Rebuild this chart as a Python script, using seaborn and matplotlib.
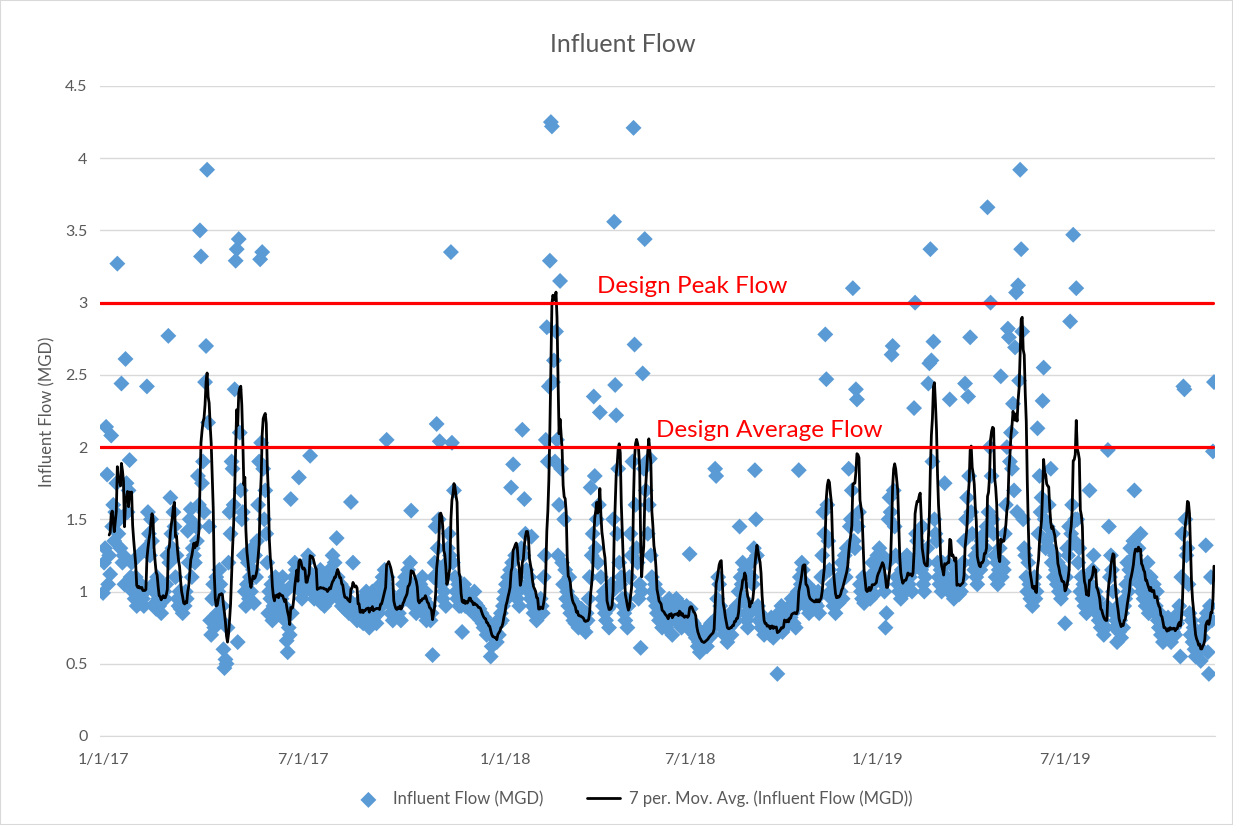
import numpy as np
import pandas as pd
import matplotlib
matplotlib.use('Agg')
import matplotlib.pyplot as plt
import seaborn as sns
from matplotlib.ticker import MultipleLocator, FuncFormatter
from matplotlib.patches import Rectangle

# daily influent flow (MGD), one row ~ 10 readings
flow_2017 = [
    0.99, 1.20, 1.30, 2.14, 1.81, 1.05, 1.25, 1.12, 2.08, 1.45,
    1.60, 1.35, 1.55, 1.75, 3.27, 1.40, 1.50, 1.30, 2.44, 1.20,
    1.25, 1.05, 2.61, 1.75, 1.55, 1.70, 1.91, 1.10, 1.20, 1.00,
    1.05, 0.95, 1.10, 0.90, 1.00, 1.25, 0.92, 1.05, 0.98, 0.95,
    0.90, 1.00, 1.30, 2.42, 1.55, 1.40, 1.25, 1.50, 1.35, 1.05,
    1.00, 0.92, 0.88, 1.10, 0.95, 0.90, 1.00, 0.85, 1.05, 0.95,
    1.00, 0.95, 1.05, 1.25, 2.77, 1.20, 1.65, 1.40, 1.30, 1.55,
    1.45, 1.10, 1.25, 0.95, 0.90, 1.00, 0.88, 0.92, 0.85, 0.95,
    0.90, 1.00, 0.95, 1.42, 1.20, 1.50, 1.57, 1.10, 1.30, 1.25,
    1.20, 1.45, 1.35, 1.80, 1.60, 3.50, 3.32, 1.75, 1.90, 1.55,
    2.45, 2.70, 3.92, 2.17, 1.45, 0.80, 0.70, 0.95, 1.05, 0.75,
    0.95, 1.10, 0.85, 1.00, 1.15, 1.05, 0.80, 0.90, 0.60, 0.47,
    0.53, 0.50, 0.75, 1.20, 1.55, 1.40, 1.90, 1.85, 1.60, 2.40,
    3.29, 3.37, 0.65, 3.44, 2.10, 1.70, 1.50, 1.55, 1.25, 1.00,
    0.90, 1.05, 1.20, 0.95, 1.10, 1.00, 1.30, 1.15, 0.92, 1.25,
    1.10, 1.35, 1.60, 1.90, 3.30, 2.03, 3.35, 1.85, 1.50, 1.70,
    1.40, 1.20, 0.85, 1.00, 0.95, 1.05, 0.80, 0.90, 1.00, 1.10,
    0.95, 1.05, 0.90, 1.00, 0.85, 0.95, 1.10, 0.81, 0.90, 1.00,
    0.66, 0.58, 0.75, 0.70, 1.64, 0.85, 1.05, 1.10, 1.20, 1.15,
    1.05, 1.10, 1.79, 1.15, 1.00, 0.95, 1.05, 1.10, 1.00, 1.20,
    1.15, 1.25, 1.10, 1.94, 1.05, 1.00, 1.10, 0.95, 1.05, 1.00,
    0.95, 1.10, 1.00, 1.15, 0.92, 1.05, 1.00, 0.90, 1.10, 0.98,
    1.05, 1.00, 1.15, 0.95, 1.10, 1.25, 1.05, 1.20, 1.00, 1.37,
    1.10, 0.95, 1.00, 1.05, 0.90, 0.95, 1.00, 0.88, 0.92, 1.00,
    0.95, 0.85, 0.90, 1.62, 0.92, 1.20, 0.88, 0.85, 0.90, 0.80,
    0.85, 0.92, 0.80, 0.88, 0.95, 0.78, 0.90, 0.85, 1.00, 0.82,
    0.90, 0.75, 0.95, 0.85, 1.00, 0.80, 0.88, 0.92, 0.78, 0.95,
    0.85, 0.95, 1.05, 0.90, 1.10, 1.00, 1.15, 1.05, 2.05, 1.10,
    1.00, 0.95, 0.85, 0.90, 0.80, 0.95, 0.88, 0.85, 0.90, 0.95,
    0.85, 0.92, 0.80, 0.95, 1.05, 1.00, 1.10, 0.95, 1.05, 1.15,
    1.00, 1.20, 1.56, 1.05, 0.95, 0.90, 1.00, 0.85, 0.92, 0.88,
    0.95, 1.05, 0.90, 1.10, 0.85, 0.95, 1.00, 0.80, 0.88, 0.85,
    0.90, 0.80, 0.85, 0.56, 1.10, 1.20, 1.45, 2.16, 1.30, 1.50,
    2.04, 1.15, 1.05, 0.95, 1.00, 1.10, 0.90, 1.20, 1.30, 1.40,
    1.25, 3.35, 2.03, 1.20, 1.70, 1.10, 1.00, 0.95, 1.05, 0.90,
    1.00, 0.90, 0.72, 0.95, 1.05, 0.90, 1.00, 0.92, 0.98, 0.88,
    0.95, 0.90, 0.88, 0.85, 1.00, 0.92, 0.86, 0.90, 0.82, 0.88,
    0.80, 0.85, 0.78, 0.75, 0.82, 0.80, 0.70, 0.78, 0.72, 0.75,
    0.55, 0.62, 0.70, 0.68, 0.75, 0.72, 0.65, 0.80, 0.70, 0.78,
]

flow_2018 = [
    0.85, 0.80, 0.90, 0.95, 1.00, 1.05, 0.95, 1.10, 1.00, 1.15,
    1.72, 1.20, 1.88, 1.05, 1.25, 1.10, 0.95, 1.00, 0.90, 1.05,
    1.30, 2.12, 1.25, 1.64, 1.40, 1.15, 1.05, 1.00, 1.10, 0.95,
    1.38, 0.90, 0.85, 0.95, 0.88, 0.80, 0.92, 0.85, 0.90, 0.95,
    0.90, 0.85, 1.10, 1.25, 2.05, 2.83, 1.90, 2.42, 3.29, 4.25,
    4.22, 2.45, 2.60, 1.90, 2.80, 2.05, 1.25, 1.60, 3.15, 1.85,
    1.20, 1.05, 1.50, 1.15, 0.95, 1.00, 0.90, 1.10, 0.85, 0.95,
    0.85, 0.80, 0.92, 0.78, 0.85, 0.90, 0.75, 0.82, 0.80, 0.88,
    0.75, 0.80, 0.78, 0.72, 0.85, 0.80, 0.95, 1.10, 1.72, 1.25,
    1.40, 2.35, 1.80, 1.30, 1.50, 1.20, 1.60, 2.24, 1.10, 0.95,
    0.90, 1.00, 0.85, 0.80, 0.95, 0.88, 0.75, 0.90, 1.05, 1.00,
    1.50, 3.56, 2.43, 2.22, 1.40, 1.85, 1.20, 1.05, 1.10, 0.95,
    0.90, 0.85, 0.80, 0.95, 0.75, 0.90, 1.10, 1.40, 1.25, 1.90,
    4.21, 2.71, 1.60, 1.30, 1.20, 0.95, 1.05, 0.61, 1.00, 2.51,
    1.85, 3.44, 1.70, 1.90, 1.40, 1.60, 1.92, 1.25, 1.10, 1.00,
    0.95, 1.05, 0.90, 0.85, 1.00, 0.80, 0.92, 0.88, 0.75, 0.85,
    0.80, 0.90, 0.75, 0.85, 0.78, 0.95, 0.82, 0.88, 0.70, 0.85,
    0.90, 0.80, 0.95, 0.85, 0.78, 0.92, 0.80, 0.75, 0.88, 0.82,
    0.80, 0.85, 0.90, 0.75, 0.82, 1.26, 0.88, 0.80, 0.72, 0.78,
    0.70, 0.68, 0.75, 0.62, 0.65, 0.58, 0.70, 0.60, 0.66, 0.72,
    0.65, 0.70, 0.62, 0.75, 0.68, 0.72, 0.78, 0.70, 0.75, 0.80,
    1.85, 1.80, 0.95, 1.10, 1.05, 0.90, 0.85, 0.75, 0.80, 0.70,
    0.72, 0.78, 0.65, 0.80, 0.75, 0.85, 0.70, 0.82, 0.78, 0.85,
    0.80, 0.90, 0.85, 1.00, 1.45, 1.10, 1.05, 1.20, 0.95, 1.15,
    0.85, 0.80, 0.75, 0.90, 0.85, 1.20, 1.10, 1.05, 1.30, 1.84,
    1.50, 1.25, 0.90, 0.80, 0.85, 0.75, 0.78, 0.82, 0.70, 0.75,
    0.80, 0.72, 0.78, 0.75, 0.70, 0.82, 0.76, 0.68, 0.80, 0.74,
    0.78, 0.43, 0.85, 0.80, 0.75, 0.90, 0.72, 0.82, 0.78, 0.80,
    0.76, 0.85, 0.80, 0.90, 0.82, 0.95, 0.85, 0.78, 0.88, 0.75,
    0.90, 1.00, 1.84, 1.10, 1.05, 1.20, 1.15, 0.95, 1.00, 0.90,
    1.05, 0.92, 0.85, 1.00, 0.90, 0.95, 0.88, 1.00, 0.92, 0.95,
    0.90, 1.00, 0.85, 0.98, 1.10, 1.25, 1.55, 1.40, 2.78, 2.47,
    1.60, 1.35, 1.15, 1.00, 0.95, 1.05, 0.90, 1.00, 0.85, 0.95,
    1.05, 0.92, 1.10, 1.00, 1.20, 0.95, 1.15, 1.25, 1.10, 1.30,
    1.30, 1.85, 1.45, 1.50, 1.70, 3.10, 1.35, 1.30, 2.40, 2.33,
    1.45, 1.55, 1.05, 1.00, 0.95, 1.10, 0.92, 1.00, 1.05, 0.98,
    1.05, 1.10, 0.95, 1.00, 1.20, 1.05, 0.98, 1.10, 1.15, 1.25,
]

flow_2019 = [
    1.15, 1.30, 1.20, 1.10, 1.25, 1.05, 1.00, 0.75, 0.85, 1.20,
    1.50, 1.65, 1.55, 2.64, 2.70, 1.70, 1.45, 1.25, 1.10, 1.05,
    1.00, 1.10, 0.95, 1.15, 1.05, 1.20, 1.10, 1.00, 1.25, 1.15,
    1.05, 1.10, 1.20, 1.00, 1.15, 2.27, 3.00, 1.40, 1.35, 1.20,
    1.25, 1.30, 1.15, 1.45, 1.05, 1.00, 1.10, 1.20, 1.30, 2.44,
    2.58, 3.37, 2.60, 1.90, 2.73, 1.50, 1.40, 1.35, 1.20, 1.10,
    1.05, 1.15, 1.00, 1.20, 1.10, 1.75, 1.05, 1.10, 1.20, 1.00,
    2.33, 1.05, 1.00, 1.10, 0.95, 1.05, 1.15, 1.00, 1.10, 0.98,
    1.05, 1.00, 1.10, 1.20, 1.35, 2.44, 1.50, 1.65, 2.35, 1.80,
    2.76, 1.55, 1.40, 1.20, 1.15, 1.25, 1.10, 1.05, 1.30, 1.20,
    1.15, 1.35, 1.25, 1.20, 1.40, 1.30, 1.45, 3.66, 1.55, 2.00,
    3.00, 1.80, 1.50, 1.40, 1.25, 1.10, 1.20, 1.05, 1.15, 1.30,
    2.49, 1.10, 1.20, 1.15, 1.40, 1.60, 2.00, 2.82, 2.76, 1.90,
    2.10, 1.85, 2.30, 1.70, 2.69, 3.07, 1.55, 3.12, 2.46, 3.92,
    3.37, 2.80, 1.50, 1.30, 1.25, 1.10, 1.00, 1.20, 1.05, 0.95,
    1.00, 0.90, 1.05, 1.10, 0.95, 1.00, 2.13, 1.40, 1.80, 1.55,
    1.65, 2.32, 2.55, 1.50, 1.30, 1.35, 1.45, 1.60, 1.30, 1.85,
    1.20, 1.40, 1.10, 1.25, 1.15, 1.05, 1.20, 1.00, 1.10, 0.95,
    1.05, 1.15, 1.00, 0.78, 1.10, 1.30, 1.25, 1.45, 2.87, 1.40,
    1.60, 3.47, 1.35, 1.50, 3.10, 1.50, 1.20, 1.30, 1.00, 1.10,
    0.95, 1.05, 0.90, 1.00, 0.85, 1.10, 0.95, 1.70, 1.05, 1.00,
    1.15, 1.25, 0.90, 1.00, 0.85, 0.95, 0.80, 0.90, 0.75, 0.85,
    0.80, 0.70, 0.85, 0.75, 0.90, 1.98, 1.45, 1.10, 1.25, 1.15,
    1.00, 0.85, 0.75, 0.80, 0.65, 0.90, 0.72, 0.80, 0.68, 0.85,
    0.75, 0.90, 0.95, 1.05, 1.20, 1.00, 1.15, 1.30, 1.10, 1.20,
    1.35, 1.70, 1.25, 1.15, 1.20, 1.30, 1.05, 1.40, 1.00, 1.15,
    0.95, 1.10, 0.90, 1.05, 1.20, 0.85, 1.00, 1.10, 0.90, 0.95,
    1.05, 0.85, 0.90, 1.00, 0.80, 0.75, 0.85, 0.70, 0.78, 0.65,
    0.72, 0.80, 0.68, 0.75, 0.82, 0.70, 0.78, 0.65, 0.80, 0.72,
    0.75, 0.70, 0.80, 0.78, 0.85, 0.90, 0.55, 1.10, 1.40, 2.42,
    2.40, 1.50, 1.25, 1.30, 1.05, 0.85, 0.70, 0.80, 0.65, 0.75,
    0.60, 0.55, 0.65, 0.58, 0.62, 0.70, 0.52, 0.60, 0.68, 0.75,
    0.80, 1.32, 0.85, 0.58, 0.43, 0.90, 1.10, 0.80, 1.97, 2.45,
]

tick_labels = ['1/1/17', '7/1/17', '1/1/18', '7/1/18', '1/1/19', '7/1/19']
design_peak = 3.0
design_avg = 2.0

# tabla para seaborn
flow = flow_2017 + flow_2018 + flow_2019
df = pd.DataFrame({'n': np.arange(len(flow)), 'flow': flow})
df['ma'] = df['flow'].rolling(7).mean()

# category positions where the date labels sit
tick_pos = [0, 196, 394, 575, 759, 943]

sns.set_style('white')
plt.rcParams['font.family'] = ['Lato', 'DejaVu Sans']
gris = '#595959'

fig = plt.figure(figsize=(12.33, 8.25), dpi=100)
ax = fig.add_axes([0.0811, 0.1079, 0.9043, 0.7879])

sns.scatterplot(data=df, x='n', y='flow', marker='D', s=66, color='#5B9BD5',
                edgecolor='none', linewidth=0, ax=ax, zorder=2,
                label='Influent Flow (MGD)')
sns.lineplot(data=df, x='n', y='ma', color='black', linewidth=2.0, ax=ax,
             zorder=3, label='7 per. Mov. Avg. (Influent Flow (MGD))')

ax.axhline(design_peak, color='red', linewidth=2.3, xmax=0.998, zorder=4)
ax.axhline(design_avg, color='red', linewidth=2.3, xmax=0.998, zorder=4)
ax.text(484, 3.07, 'Design Peak Flow', color='red', fontsize=17.5, va='baseline')
ax.text(542, 2.07, 'Design Average Flow', color='red', fontsize=17.5, va='baseline')

ax.set_xlim(-3, 1090)
ax.set_ylim(0, 4.5)
ax.yaxis.set_major_locator(MultipleLocator(0.5))
ax.yaxis.set_major_formatter(FuncFormatter(lambda v, p: f'{v:g}'))
ax.set_xticks(tick_pos)
ax.set_xticklabels(tick_labels)
ax.tick_params(axis='both', labelsize=11.5, colors=gris, length=0)
ax.tick_params(axis='x', pad=12)
ax.tick_params(axis='y', pad=9)
ax.yaxis.grid(True, color='#D9D9D9', linewidth=1.0)
ax.set_axisbelow(True)
for s in ['left', 'top', 'right']:
    ax.spines[s].set_visible(False)
ax.spines['bottom'].set_color('#D9D9D9')
ax.set_xlabel('')
ax.set_ylabel('')

fig.text(623 / 1233, 1 - 44 / 825, 'Influent Flow', ha='center', va='center',
         fontsize=18, color=gris)
fig.text(47 / 1233, 1 - 412 / 825, 'Influent Flow (MGD)', ha='center',
         va='center', rotation=90, fontsize=12, color=gris)

ax.legend_.remove()
h, l = ax.get_legend_handles_labels()
leg = fig.legend(h, l, loc='center', bbox_to_anchor=(632 / 1233, 1 - 799 / 825),
                 ncol=2, frameon=False, fontsize=12, handlelength=2.0,
                 handletextpad=0.5, columnspacing=2.6)
for t in leg.get_texts():
    t.set_color(gris)

fig.patches.append(Rectangle((0, 0), 1, 1, transform=fig.transFigure, fill=False,
                             edgecolor='#D9D9D9', linewidth=1.5))

fig.savefig('out.png', dpi=100)
